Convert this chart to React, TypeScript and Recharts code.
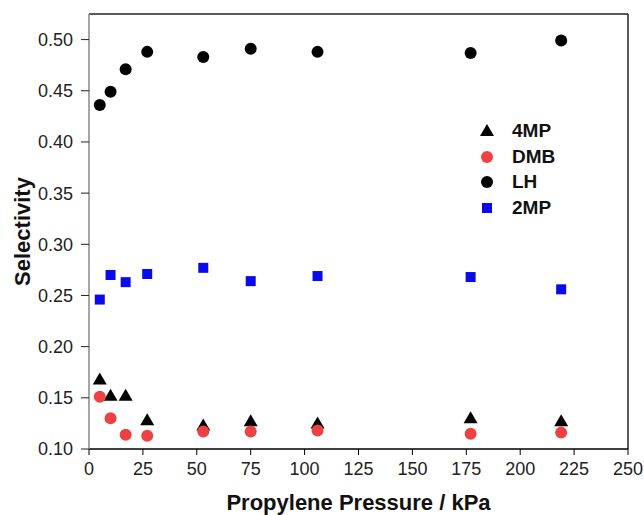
import { ScatterChart, Scatter, XAxis, YAxis, ReferenceLine } from 'recharts'

// propylene pressure, kPa
const pressure = [5, 10, 17, 27, 53, 75, 106, 177, 219]

const sel4MP = [0.168, 0.152, 0.152, 0.128, 0.123, 0.127, 0.125, 0.130, 0.127]
const selDMB = [0.151, 0.130, 0.114, 0.113, 0.117, 0.117, 0.118, 0.115, 0.116]
const selLH = [0.436, 0.449, 0.471, 0.488, 0.483, 0.491, 0.488, 0.487, 0.499]
const sel2MP = [0.246, 0.270, 0.263, 0.271, 0.277, 0.264, 0.269, 0.268, 0.256]

const xTicks = [0, 25, 50, 75, 100, 125, 150, 175, 200, 225, 250]
const yTicks = [0.1, 0.15, 0.2, 0.25, 0.3, 0.35, 0.4, 0.45, 0.5]

const FONT = '"Liberation Sans", Arial, sans-serif'

const toPoints = (ys: number[]) => pressure.map((x, i) => ({ x, y: ys[i] }))

function Triangle({ cx, cy, fill }: any) {
  return <polygon points={`${cx},${cy - 7} ${cx - 7},${cy + 5} ${cx + 7},${cy + 5}`} fill={fill} />
}
function Dot({ cx, cy, fill }: any) {
  return <circle cx={cx} cy={cy} r={6} fill={fill} />
}
function Square({ cx, cy, fill }: any) {
  return <rect x={cx - 5} y={cy - 5} width={10} height={10} fill={fill} />
}

const series = [
  { name: '4MP', data: sel4MP, color: '#000000', shape: Triangle },
  { name: 'DMB', data: selDMB, color: '#ee4242', shape: Dot },
  { name: 'LH', data: selLH, color: '#000000', shape: Dot },
  { name: '2MP', data: sel2MP, color: '#0a0aee', shape: Square },
]

// legend sits inside the plot, drawn over the chart
function LegendBox() {
  return (
    <div style={{ position: 'absolute', left: 477, top: 118, fontFamily: FONT, fontWeight: 'bold', fontSize: 19, color: '#111' }}>
      {series.map((s) => {
        const Shape = s.shape
        return (
          <div key={s.name} style={{ display: 'flex', alignItems: 'center', height: 25.7 }}>
            <svg width={20} height={20} style={{ marginRight: 15 }}>
              <Shape cx={10} cy={10} fill={s.color} />
            </svg>
            <span>{s.name}</span>
          </div>
        )
      })}
    </div>
  )
}

export default function App() {
  return (
    <div style={{ position: 'absolute', left: 0, top: 0, width: 644, height: 515, background: '#fff' }}>
      <ScatterChart width={644} height={515} margin={{ top: 14, right: 16, left: 0, bottom: 0 }}>
        <XAxis
          type="number"
          dataKey="x"
          domain={[0, 250]}
          ticks={xTicks}
          height={66}
          tickSize={6}
          tickMargin={7}
          axisLine={{ stroke: '#000', strokeWidth: 1.5 }}
          tickLine={{ stroke: '#000' }}
          tick={{ fill: '#222', fontSize: 18, fontFamily: FONT }}
          label={{
            content: ({ viewBox }: any) => (
              <text x={viewBox.x + viewBox.width / 2} y={510} textAnchor="middle"
                fontFamily={FONT} fontWeight="bold" fontSize={22} fill="#111">
                Propylene Pressure / kPa
              </text>
            ),
          }}
        />
        <YAxis
          type="number"
          dataKey="y"
          domain={[0.1, 0.525]}
          ticks={yTicks}
          width={89}
          tickSize={8}
          tickMargin={8}
          tickFormatter={(v: number) => v.toFixed(2)}
          axisLine={{ stroke: '#888', strokeWidth: 1.5 }}
          tickLine={{ stroke: '#222' }}
          tick={{ fill: '#222', fontSize: 18, fontFamily: FONT }}
          label={{
            content: ({ viewBox }: any) => {
              const cy = viewBox.y + viewBox.height / 2
              return (
                <text x={22} y={cy} textAnchor="middle" dominantBaseline="central"
                  transform={`rotate(-90 22 ${cy})`}
                  fontFamily={FONT} fontWeight="bold" fontSize={22} fill="#111">
                  Selectivity
                </text>
              )
            },
          }}
        />
        <ReferenceLine y={0.525} stroke="#222" strokeWidth={1.5} />
        <ReferenceLine x={250} stroke="#222" strokeWidth={1.5} />
        {series.map((s) => (
          <Scatter
            key={s.name}
            name={s.name}
            data={toPoints(s.data)}
            fill={s.color}
            shape={s.shape}
            isAnimationActive={false}
          />
        ))}
      </ScatterChart>
      <LegendBox />
    </div>
  )
}
